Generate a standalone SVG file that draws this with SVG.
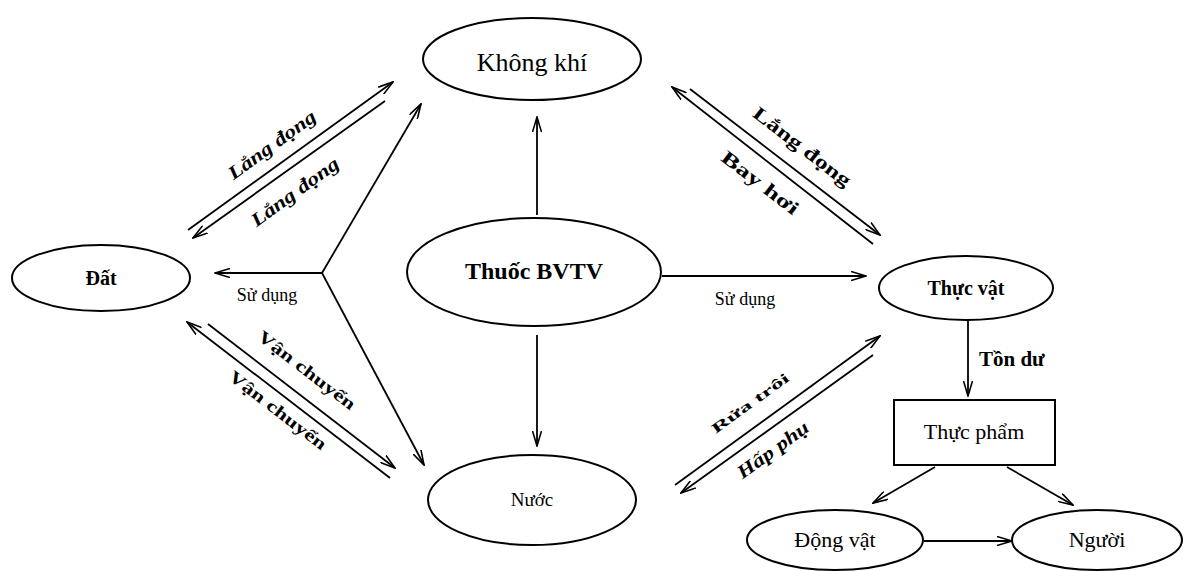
<svg xmlns="http://www.w3.org/2000/svg" width="1184" height="571" viewBox="0 0 1184 571">
<style>
.node{fill:#fff;stroke:#000;stroke-width:2}
.lbl{font-family:"Liberation Serif","Times New Roman",serif;fill:#000}
.b{font-weight:bold}
.i{font-style:italic}
.c{stroke:#000;stroke-width:1.8;fill:none;marker-end:url(#arr)}
</style>
<defs>
<marker id="arr" viewBox="0 0 16 10" refX="15" refY="5" markerWidth="16" markerHeight="10" orient="auto" markerUnits="userSpaceOnUse">
<path d="M0,0.5 L15,5 L0,9.5" fill="none" stroke="#000" stroke-width="1.6"/>
</marker>
</defs>
<rect width="1184" height="571" fill="#fff"/>
<g id="connectors">
<line class="c" x1="537" y1="215" x2="537" y2="117"/>
<line class="c" x1="537" y1="335" x2="537" y2="446"/>
<line class="c" x1="662" y1="276" x2="866" y2="276"/>
<line class="c" x1="322" y1="273" x2="215" y2="273"/>
<line class="c" x1="322" y1="273" x2="421" y2="104"/>
<line class="c" x1="322" y1="273" x2="424" y2="465"/>
<line class="c" x1="188" y1="230" x2="393" y2="82"/>
<line class="c" x1="385" y1="101" x2="193" y2="238"/>
<line class="c" x1="873" y1="244" x2="672" y2="87"/>
<line class="c" x1="690" y1="89" x2="880" y2="235"/>
<line class="c" x1="390" y1="478" x2="187" y2="322"/>
<line class="c" x1="208" y1="324" x2="395" y2="468"/>
<line class="c" x1="675" y1="485" x2="880" y2="336"/>
<line class="c" x1="873" y1="355" x2="681" y2="493"/>
<line class="c" x1="968" y1="320" x2="968" y2="396"/>
<line class="c" x1="935" y1="467" x2="873" y2="503"/>
<line class="c" x1="1007" y1="467" x2="1073" y2="505"/>
<line class="c" x1="924" y1="541" x2="1012" y2="541"/>
</g>
<g id="edge-labels">
<text class="lbl b i" font-size="19" text-anchor="middle" transform="translate(272,145) rotate(-36)" y="6" textLength="104" lengthAdjust="spacingAndGlyphs">Lắng đọng</text>
<text class="lbl b i" font-size="19" text-anchor="middle" transform="translate(295,192) rotate(-36)" y="6" textLength="104" lengthAdjust="spacingAndGlyphs">Lắng đọng</text>
<text class="lbl b" font-size="19" text-anchor="middle" transform="translate(802,147) rotate(37.5)" y="6" textLength="118" lengthAdjust="spacingAndGlyphs">Lắng đọng</text>
<text class="lbl b" font-size="19" text-anchor="middle" transform="translate(760,183) rotate(37.5)" y="6" textLength="92" lengthAdjust="spacingAndGlyphs">Bay hơi</text>
<text class="lbl b" font-size="17" text-anchor="middle" transform="translate(307,370) rotate(37.5)" y="6" textLength="118" lengthAdjust="spacingAndGlyphs">Vận chuyển</text>
<text class="lbl b" font-size="17" text-anchor="middle" transform="translate(278,410) rotate(37.5)" y="6" textLength="118" lengthAdjust="spacingAndGlyphs">Vận chuyển</text>
<text class="lbl b" font-size="14" text-anchor="middle" transform="translate(750,403) rotate(-36)" y="5" textLength="92" lengthAdjust="spacingAndGlyphs">Rửa trôi</text>
<text class="lbl b i" font-size="19" text-anchor="middle" transform="translate(773,450) rotate(-36)" y="6" textLength="84" lengthAdjust="spacingAndGlyphs">Hấp phụ</text>
<text class="lbl" font-size="18" x="267" y="301" text-anchor="middle">Sử dụng</text>
<text class="lbl" font-size="18" x="745" y="305" text-anchor="middle">Sử dụng</text>
<text class="lbl b" font-size="21" x="979" y="366">Tồn dư</text>
</g>
<g id="khong-khi">
<ellipse class="node" cx="532" cy="59" rx="109" ry="41"/>
<text class="lbl" font-size="26" x="532" y="71" text-anchor="middle">Không khí</text>
</g>
<g id="dat">
<ellipse class="node" cx="101" cy="278" rx="89" ry="33"/>
<text class="lbl b" font-size="20" x="101" y="285" text-anchor="middle">Đất</text>
</g>
<g id="thuoc-bvtv">
<ellipse class="node" cx="534" cy="272" rx="127" ry="54"/>
<text class="lbl b" font-size="24" x="534" y="279" text-anchor="middle">Thuốc BVTV</text>
</g>
<g id="thuc-vat">
<ellipse class="node" cx="966" cy="288" rx="87" ry="32"/>
<text class="lbl b" font-size="20" x="966" y="295" text-anchor="middle">Thực vật</text>
</g>
<g id="nuoc">
<ellipse class="node" cx="532" cy="500" rx="104" ry="45"/>
<text class="lbl" font-size="19" x="532" y="506" text-anchor="middle">Nước</text>
</g>
<g id="thuc-pham">
<rect class="node" x="894" y="400" width="161" height="65"/>
<text class="lbl" font-size="22" x="974" y="439" text-anchor="middle">Thực phẩm</text>
</g>
<g id="dong-vat">
<ellipse class="node" cx="835" cy="540" rx="88" ry="30"/>
<text class="lbl" font-size="22" x="835" y="547" text-anchor="middle">Động vật</text>
</g>
<g id="nguoi">
<ellipse class="node" cx="1097" cy="540" rx="85" ry="30"/>
<text class="lbl" font-size="22" x="1097" y="547" text-anchor="middle">Người</text>
</g>
</svg>
